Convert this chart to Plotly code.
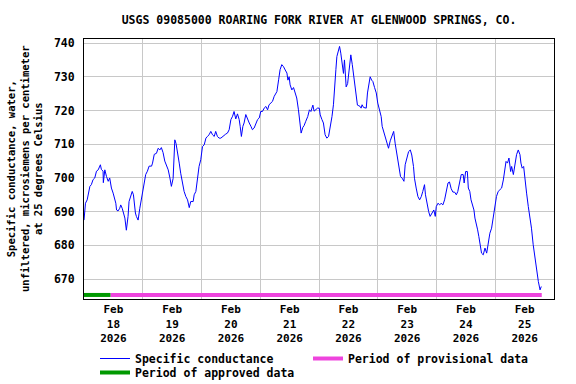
import pandas as pd
import plotly.graph_objects as go

# ---------------- data ----------------
start = pd.Timestamp("2026-02-18 00:00")

obs_hours = [
    0.0, 0.6, 1.3, 1.7, 2.4, 3.0, 3.7, 4.4, 5.1, 5.8, 6.7, 7.1, 7.8, 7.9, 8.5, 9.2, 9.9, 10.5,
    11.2, 11.9, 12.6, 13.0, 13.3, 13.9, 14.6, 15.0, 15.6, 16.0, 16.7, 17.3, 18.0, 18.4, 19.1,
    19.7, 20.2, 20.5, 21.0, 21.4, 22.1, 22.8, 23.5, 24.2, 24.6, 25.2, 25.9, 26.6, 27.6, 28.0,
    28.7, 29.6, 30.3, 31.0, 31.6, 32.3, 33.0, 33.7, 34.4, 35.1, 35.7, 36.4, 36.8, 37.1, 37.6,
    38.2, 38.9, 39.5, 40.2, 40.9, 41.6, 42.3, 43.0, 43.6, 44.6, 45.0, 45.7, 46.4, 47.0, 47.7,
    48.4, 49.1, 49.8, 50.4, 51.1, 51.8, 52.5, 53.2, 53.8, 54.5, 55.2, 55.9, 56.6, 57.3, 57.9,
    58.6, 59.3, 60.0, 60.7, 61.3, 62.0, 62.7, 63.4, 63.8, 64.3, 64.9, 65.4, 66.1, 66.8, 67.5,
    68.2, 68.8, 69.5, 70.2, 70.9, 71.6, 72.2, 72.9, 73.6, 74.3, 75.0, 75.6, 76.3, 77.0, 77.7,
    78.8, 79.5, 80.1, 80.8, 81.5, 82.2, 82.9, 83.3, 83.8, 84.2, 84.9, 85.6, 86.3, 86.9, 87.6,
    88.3, 88.7, 89.4, 89.9, 90.6, 91.4, 92.1, 92.7, 93.1, 93.5, 94.0, 94.7, 95.4, 96.1, 96.5,
    97.2, 97.8, 98.5, 99.2, 99.9, 100.6, 101.3, 101.9, 102.3, 102.9, 103.3, 104.0, 104.4,
    104.9, 105.3, 105.7, 106.0, 106.4, 106.7, 107.1, 107.7, 108.2, 108.6, 109.0, 109.6,
    110.1, 110.5, 111.1, 111.7, 112.3, 112.8, 113.2, 113.6, 114.2, 114.9, 115.3, 115.8,
    116.5, 116.9, 117.5, 118.0, 118.7, 119.4, 120.0, 120.7, 121.4, 121.8, 122.4, 123.0,
    123.7, 124.4, 125.1, 125.8, 126.5, 127.1, 127.5, 128.2, 128.6, 129.3, 130.0, 130.7,
    131.2, 131.9, 132.6, 133.3, 133.9, 134.6, 135.0, 135.7, 136.4, 137.1, 137.8, 138.4,
    139.1, 139.5, 140.1, 140.8, 141.4, 142.3, 142.9, 143.5, 143.9, 144.6, 145.3, 145.9,
    146.6, 147.3, 148.0, 148.7, 149.3, 150.0, 150.7, 151.4, 152.1, 152.7, 153.4, 154.1,
    154.9, 155.3, 155.9, 156.6, 157.0, 157.6, 158.1, 158.7, 159.3, 159.7, 160.4, 160.8,
    161.3, 161.7, 162.4, 163.1, 163.8, 164.5, 165.1, 165.8, 166.5, 167.2, 167.9, 168.5,
    169.2, 169.9, 170.6, 171.3, 171.7, 172.4, 173.0, 173.6, 174.3, 174.7, 175.4, 176.0,
    176.7, 177.4, 178.1, 178.5, 179.0, 179.6, 180.1, 180.8, 181.5, 182.2, 182.8, 183.5,
    184.2, 184.9, 185.6, 186.3, 186.8,
]

conductance = [
    687.5, 692.5, 693.5, 695.5, 697.5, 698.0, 699.5, 700.0, 702.0, 702.4, 703.9, 702.5, 702.0,
    698.6, 702.4, 700.4, 699.0, 700.0, 697.0, 695.5, 693.5, 692.5, 690.5, 690.2, 691.0, 692.0,
    691.0, 689.6, 688.1, 684.5, 688.6, 693.0, 695.0, 696.0, 695.0, 692.0, 689.6, 688.6, 687.5,
    691.0, 694.0, 697.0, 698.9, 701.0, 702.0, 703.5, 703.5, 704.4, 707.0, 707.3, 708.8, 708.3,
    709.0, 707.5, 705.0, 703.5, 702.4, 700.0, 697.5, 699.8, 705.0, 711.3, 710.2, 708.0, 704.4,
    701.4, 698.0, 696.0, 694.5, 693.5, 691.2, 693.0, 693.0, 695.0, 696.0, 700.4, 703.4, 705.4,
    709.3, 709.8, 711.8, 712.3, 712.8, 713.8, 712.8, 712.3, 713.8, 712.3, 711.8, 711.8, 712.3,
    712.8, 713.0, 713.3, 714.3, 717.3, 718.3, 719.7, 717.5, 719.0, 717.3, 715.3, 712.3, 715.3,
    716.3, 718.8, 717.3, 716.3, 715.3, 714.3, 714.8, 716.3, 717.3, 717.8, 719.7, 719.7, 720.7,
    721.2, 720.2, 721.7, 722.2, 722.7, 724.2, 725.6, 729.1, 732.1, 733.6, 733.0, 732.0, 731.1,
    729.0, 730.0, 727.6, 726.1, 726.8, 725.2, 723.7, 720.2, 715.3, 713.3, 715.0, 715.5, 716.8,
    718.2, 720.2, 719.7, 720.7, 721.6, 719.8, 720.2, 720.7, 720.7, 718.7, 717.3, 716.3, 712.8,
    711.8, 712.3, 714.8, 718.2, 721.7, 727.1, 732.1, 736.0, 738.0, 739.0, 737.0, 735.0, 733.1,
    731.0, 735.0, 730.0, 727.0, 728.0, 731.0, 733.6, 736.5, 733.6, 731.0, 728.0, 725.6, 721.6,
    721.4, 721.2, 720.7, 721.7, 720.9, 720.9, 720.7, 725.2, 728.0, 730.0, 729.0, 728.6, 726.8,
    725.2, 722.2, 719.7, 718.2, 715.3, 713.8, 711.8, 709.8, 708.8, 711.0, 712.8, 713.8, 710.3,
    708.4, 704.9, 702.4, 700.4, 699.9, 699.0, 703.9, 705.9, 707.8, 708.3, 706.8, 703.4, 699.9,
    697.0, 694.5, 693.5, 694.5, 696.0, 698.0, 695.0, 692.0, 690.0, 688.6, 689.6, 690.5, 688.6,
    691.5, 692.5, 692.0, 692.5, 692.0, 693.5, 696.5, 698.5, 698.8, 696.8, 695.8, 695.8, 695.0,
    696.0, 698.5, 701.0, 701.0, 698.5, 701.9, 701.9, 697.0, 696.0, 693.5, 691.5, 690.5, 688.1,
    686.1, 684.6, 682.6, 681.1, 677.7, 677.2, 679.2, 677.7, 680.2, 683.6, 685.1, 688.1, 692.0,
    694.5, 696.0, 696.5, 697.0, 699.4, 701.9, 704.9, 704.4, 705.9, 701.9, 703.4, 701.0, 704.4,
    706.9, 708.3, 706.9, 704.4, 702.9, 703.4, 699.0, 695.5, 691.5, 688.1, 685.1, 680.2, 676.2,
    672.8, 669.3, 666.8, 667.8,
]

approved_hours = [0.0, 10.8]
provisional_hours = [10.8, 187.0]
period_bar_level = 665.3

y_ticks = [670, 680, 690, 700, 710, 720, 730, 740]
y_range = [664.1, 741.2]
n_days = 8

title_text = "USGS 09085000 ROARING FORK RIVER AT GLENWOOD SPRINGS, CO."
y_title = ("Specific conductance, water,<br>"
           "unfiltered, microsiemens per centimeter<br>"
           "at 25 degrees Celsius")

# ---------------- figure ----------------
times = start + pd.to_timedelta(obs_hours, unit="h")
appr_t = start + pd.to_timedelta(approved_hours, unit="h")
prov_t = start + pd.to_timedelta(provisional_hours, unit="h")

FONT = "DejaVu Sans Mono"
W, H = 576, 384
ML, MR, MT, MB = 84, 22, 39, 85
PW = W - ML - MR
LEG_FONT = dict(family=FONT, size=11.5, color="black", weight="bold")

fig = go.Figure()
fig.add_trace(go.Scatter(
    x=times, y=conductance, mode="lines",
    line=dict(color="#0000ff", width=1),
    name="Specific conductance", legend="legend", legendwidth=168,
))
fig.add_trace(go.Scatter(
    x=prov_t, y=[period_bar_level] * len(prov_t), mode="lines",
    line=dict(color="#ee44dd", width=4),
    name="Period of provisional data", legend="legend", legendwidth=195,
))
fig.add_trace(go.Scatter(
    x=appr_t, y=[period_bar_level] * len(appr_t), mode="lines",
    line=dict(color="#009900", width=4),
    name="Period of approved data", legend="legend2", legendwidth=180,
))

fig.update_layout(
    width=W, height=H,
    margin=dict(l=ML, r=MR, t=MT, b=MB, pad=0, autoexpand=False),
    paper_bgcolor="white", plot_bgcolor="white",
    font=dict(family=FONT, size=11.5, color="black", weight="bold"),
    title=dict(
        text=title_text, x=0.5, xref="paper", xanchor="center",
        y=1 - 20 / H, yref="container", yanchor="middle",
        font=dict(family=FONT, size=11.5, color="black", weight="bold"),
    ),
    showlegend=True,
    legend=dict(
        orientation="h", xref="container", yref="container",
        x=95 / W, xanchor="left", y=1 - 344 / H, yanchor="top",
        font=LEG_FONT, bgcolor="rgba(0,0,0,0)", traceorder="normal",
    ),
    legend2=dict(
        orientation="h", xref="container", yref="container",
        x=95 / W, xanchor="left", y=1 - 358 / H, yanchor="top",
        font=LEG_FONT, bgcolor="rgba(0,0,0,0)", traceorder="normal",
    ),
    annotations=[dict(
        text=y_title, textangle=-90, showarrow=False,
        xref="paper", yref="paper",
        x=(24 - ML) / PW, xanchor="center", y=0.5, yanchor="middle",
        font=dict(family=FONT, size=10.5, color="black", weight="bold"),
    )],
)

fig.update_xaxes(
    type="date", automargin=False,
    range=[start, start + pd.Timedelta(days=n_days)],
    tick0=start, dtick=86400000, ticklabelmode="period",
    tickformat="%b<br>%d<br>%Y",
    showgrid=True, gridcolor="#c8c8c8", gridwidth=1,
    showline=True, linecolor="black", linewidth=1, mirror=True,
    ticks="", zeroline=False,
    tickfont=dict(family=FONT, size=11, color="black", weight="bold"),
)
fig.update_yaxes(
    automargin=False,
    range=y_range, tickmode="array", tickvals=y_ticks,
    ticktext=[str(v) for v in y_ticks],
    showgrid=True, gridcolor="#c8c8c8", gridwidth=1,
    showline=True, linecolor="black", linewidth=1, mirror=True,
    ticks="", zeroline=False, ticklabelstandoff=6,
    tickfont=dict(family=FONT, size=11.5, color="black", weight="bold"),
)

fig.write_html(
    "out.html",
    config={"displayModeBar": False},
    post_script="document.body.style.margin='0';document.body.style.overflow='hidden';",
)
